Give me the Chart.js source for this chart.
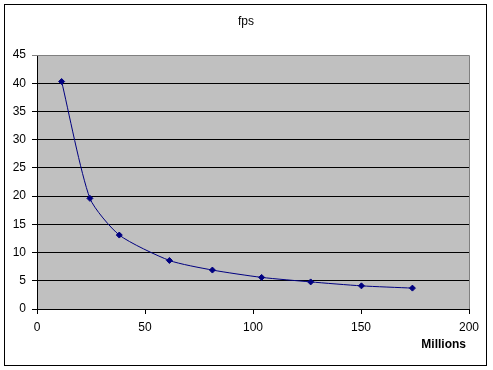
<!DOCTYPE html>
<html>
<head>
<meta charset="utf-8">
<script src="https://cdn.jsdelivr.net/npm/chart.js@4.4.0/dist/chart.umd.min.js"></script>
<style>
html,body{margin:0;padding:0;background:#fff;}
#wrap{width:493px;height:370px;position:relative;}
</style>
</head>
<body>
<div id="wrap"><canvas id="c" width="493" height="370"></canvas></div>
<script>
const chartTitle = "fps";
const xAxisTitle = "Millions";
const xValues = [11.4, 24.5, 38.1, 61.3, 81.2, 104, 126.7, 150.2, 173.8];
const fpsValues = [40.3, 19.6, 13.1, 8.6, 6.9, 5.6, 4.8, 4.1, 3.7];
const xTicks = [0, 50, 100, 150, 200];
const yTicks = [0, 5, 10, 15, 20, 25, 30, 35, 40, 45];

const FONT = "'Liberation Sans', Arial, sans-serif";

const decor = {
  id: 'decor',
  beforeDraw(chart) {
    const {ctx, chartArea: a} = chart;
    ctx.save();
    ctx.fillStyle = '#fff';
    ctx.fillRect(0, 0, chart.width, chart.height);
    ctx.fillStyle = '#C0C0C0';
    ctx.fillRect(a.left, a.top, a.right - a.left, a.bottom - a.top);
    ctx.restore();
  },
  afterDraw(chart) {
    const {ctx, chartArea: a} = chart;
    ctx.save();
    ctx.strokeStyle = '#808080';
    ctx.lineWidth = 1;
    ctx.beginPath();
    ctx.moveTo(a.left, a.top + 0.5);
    ctx.lineTo(a.right + 0.5, a.top + 0.5);
    ctx.lineTo(a.right + 0.5, a.bottom);
    ctx.stroke();
    ctx.strokeStyle = '#000';
    ctx.strokeRect(4.5, 4.5, 482, 361);
    ctx.fillStyle = '#000';
    ctx.font = '12px ' + FONT;
    ctx.textAlign = 'center';
    ctx.textBaseline = 'middle';
    ctx.fillText(chartTitle, 246, 22);
    ctx.font = 'bold 12px ' + FONT;
    ctx.textAlign = 'right';
    ctx.fillText(xAxisTitle, 466, 345);
    ctx.restore();
  }
};

new Chart(document.getElementById('c'), {
  type: 'scatter',
  data: {
    datasets: [{
      data: xValues.map((x, i) => ({x: x, y: fpsValues[i]})),
      showLine: true,
      borderColor: '#000080',
      backgroundColor: '#000080',
      borderWidth: 1,
      tension: 0.22,
      pointStyle: 'rectRot',
      pointRadius: 3,
      pointHoverRadius: 3
    }]
  },
  options: {
    responsive: false,
    animation: false,
    devicePixelRatio: 1,
    layout: {padding: {left: 0, top: 55, right: 24, bottom: 0}},
    plugins: {legend: {display: false}, tooltip: {enabled: false}, title: {display: false}},
    scales: {
      x: {
        type: 'linear', min: 0, max: 200,
        afterBuildTicks(s) { s.ticks = xTicks.map(v => ({value: v})); },
        afterFit(s) { s.height = 61; },
        grid: {drawOnChartArea: false, drawTicks: true, tickLength: 5, color: '#000'},
        border: {color: '#000', width: 1},
        ticks: {color: '#000', font: {family: FONT, size: 12}, padding: 6, maxRotation: 0}
      },
      y: {
        type: 'linear', min: 0, max: 45,
        afterBuildTicks(s) { s.ticks = yTicks.map(v => ({value: v})); },
        afterFit(s) { s.width = 37; },
        grid: {
          drawOnChartArea: true, drawTicks: true, tickLength: 5,
          color: ctx => (ctx.tick && ctx.tick.value === 45) ? '#808080' : '#000'
        },
        border: {color: '#000', width: 1},
        ticks: {color: '#000', font: {family: FONT, size: 12}, padding: 6}
      }
    }
  },
  plugins: [decor]
});
</script>
</body>
</html>
